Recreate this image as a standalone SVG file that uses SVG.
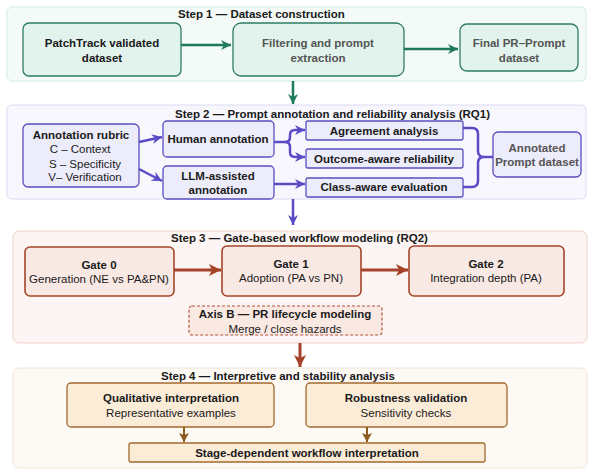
<svg xmlns="http://www.w3.org/2000/svg" width="594" height="475" viewBox="0 0 594 475">
<defs>
<style>
text{font-family:"Liberation Sans",Arial,sans-serif;font-size:11.5px;fill:#1a1a1a;text-anchor:middle}
.b{font-weight:bold}
.g{fill:#555}
.st{font-weight:bold;text-anchor:start}
.c1{fill:#f3faf7;stroke:#d3ebe1;stroke-width:1}
.n1{fill:#e1f3ec;stroke:#2e7d63;stroke-width:1.3}
.c2{fill:#f7f7fd;stroke:#dcdaf2;stroke-width:1}
.n2{fill:#ececfb;stroke:#5a4fc0;stroke-width:1.3}
.c3{fill:#fdf5f3;stroke:#f0d3ca;stroke-width:1}
.n3{fill:#f9e9e4;stroke:#a4452a;stroke-width:1.6}
.c4{fill:#fdf9f4;stroke:#f0e3d1;stroke-width:1}
.n4{fill:#fbecd8;stroke:#a26a2c;stroke-width:1.3}
.a1{fill:none;stroke:#1f7a5a;stroke-width:2.5}
.a2{fill:none;stroke:#5b4bc4;stroke-width:2.5}
.a3{fill:none;stroke:#a4432a;stroke-width:3}
.a4{fill:none;stroke:#8b5a1c;stroke-width:2}
</style>
<marker id="m1" markerUnits="userSpaceOnUse" markerWidth="12" markerHeight="12" refX="10" refY="5" orient="auto"><path d="M0,0 L10,5 L0,10 L3,5 Z" fill="#1f7a5a"/></marker>
<marker id="m2" markerUnits="userSpaceOnUse" markerWidth="12" markerHeight="12" refX="10" refY="5" orient="auto"><path d="M0,0 L10,5 L0,10 L3,5 Z" fill="#5b4bc4"/></marker>
<marker id="m3" markerUnits="userSpaceOnUse" markerWidth="14" markerHeight="14" refX="12" refY="6" orient="auto"><path d="M0,0 L12,6 L0,12 L3,6 Z" fill="#a4432a"/></marker>
<marker id="m4" markerUnits="userSpaceOnUse" markerWidth="12" markerHeight="12" refX="9" refY="5" orient="auto"><path d="M0,0 L9,5 L0,10 L2,5 Z" fill="#8b5a1c"/></marker>
</defs>
<rect width="594" height="475" fill="#ffffff"/>

<g id="step1">
<rect class="c1" x="7" y="7" width="579" height="74" rx="5"/>
<text class="st" x="178" y="18">Step 1 — Dataset construction</text>
</g>
<g id="patchtrack"><rect class="n1" x="23" y="23" width="158" height="53" rx="6"/><text class="b" x="102" y="47">PatchTrack validated</text><text class="b" x="102" y="62">dataset</text></g>
<g id="filtering"><rect class="n1" x="233" y="23" width="171" height="53" rx="8"/><text class="b g" x="318" y="47">Filtering and prompt</text><text class="b g" x="318" y="62">extraction</text></g>
<g id="final"><rect class="n1" x="460" y="24" width="118" height="47" rx="7"/><text class="b g" x="519" y="47">Final PR–Prompt</text><text class="b g" x="519" y="62">dataset</text></g>

<g id="step2">
<rect class="c2" x="7" y="105" width="579" height="94" rx="5"/>
<text class="st" x="175" y="118">Step 2 — Prompt annotation and reliability analysis (RQ1)</text>
</g>
<g id="rubric"><rect class="n2" x="23" y="124" width="116" height="63" rx="5"/><text class="b" x="81" y="139">Annotation rubric</text><text x="80" y="153">C – Context</text><text x="85" y="168">S – Specificity</text><text x="85" y="181">V– Verification</text></g>
<g id="human"><rect class="n2" x="163" y="121" width="111" height="36" rx="4"/><text class="b" x="218" y="143">Human annotation</text></g>
<g id="llm"><rect class="n2" x="163" y="166" width="111" height="33" rx="4"/><text class="b" x="218" y="180">LLM-assisted</text><text class="b" x="218" y="194">annotation</text></g>
<g id="agreement"><rect class="n2" x="306" y="121" width="157" height="19" rx="2"/><text class="b" x="384" y="135">Agreement analysis</text></g>
<g id="outcome"><rect class="n2" x="306" y="149" width="157" height="19" rx="2"/><text class="b" x="384" y="163">Outcome-aware reliability</text></g>
<g id="classaware"><rect class="n2" x="306" y="178" width="157" height="19" rx="2"/><text class="b" x="384" y="191">Class-aware evaluation</text></g>
<g id="annotated"><rect class="n2" x="493" y="132" width="88" height="45" rx="5"/><text class="b g" x="537" y="152">Annotated</text><text class="b g" x="537" y="166">Prompt dataset</text></g>

<g id="step3">
<rect class="c3" x="13" y="231" width="574" height="112" rx="6"/>
<text class="st" x="171" y="242">Step 3 — Gate-based workflow modeling (RQ2)</text>
</g>
<g id="gate0"><rect class="n3" x="25" y="247" width="149" height="49" rx="5"/><text class="b" x="99" y="269">Gate 0</text><text x="99" y="283">Generation (NE vs PA&amp;PN)</text></g>
<g id="gate1"><rect class="n3" x="222" y="246" width="139" height="50" rx="5"/><text class="b" x="291" y="268">Gate 1</text><text x="291" y="282">Adoption (PA vs PN)</text></g>
<g id="gate2"><rect class="n3" x="409" y="246" width="155" height="50" rx="5"/><text class="b" x="486" y="268">Gate 2</text><text x="486" y="282">Integration depth (PA)</text></g>
<g id="axisb"><rect x="189" y="306" width="193" height="29" rx="3" fill="#fae9e3" stroke="#b0553a" stroke-width="1.2" stroke-dasharray="3,2"/><text class="b" x="285" y="318">Axis B — PR lifecycle modeling</text><text x="285" y="333">Merge / close hazards</text></g>

<g id="step4">
<rect class="c4" x="13" y="368" width="574" height="100" rx="6"/>
<text class="st" x="161" y="380">Step 4 — Interpretive and stability analysis</text>
</g>
<g id="qualitative"><rect class="n4" x="67" y="383" width="207" height="44" rx="4"/><text class="b" x="171" y="402">Qualitative interpretation</text><text x="171" y="417">Representative examples</text></g>
<g id="robustness"><rect class="n4" x="306" y="383" width="201" height="44" rx="4"/><text class="b" x="406" y="402">Robustness validation</text><text x="406" y="417">Sensitivity checks</text></g>
<g id="stagedep"><rect class="n4" x="129" y="443" width="356" height="19" rx="2"/><text class="b" x="307" y="457">Stage-dependent workflow interpretation</text></g>

<g id="connectors">
<path class="a1" d="M181,45 H231" marker-end="url(#m1)"/>
<path class="a1" d="M404,49 H458" marker-end="url(#m1)"/>
<path class="a1" d="M293,81 V104" marker-end="url(#m1)"/>
<path class="a2" d="M139,142 L162,137" marker-end="url(#m2)"/>
<path class="a2" d="M139,169 L162,181" marker-end="url(#m2)"/>
<path class="a2" d="M274,142 H285 Q290,142 290,137 V135 Q290,130 295,130 H305" marker-end="url(#m2)"/>
<path class="a2" d="M285,142 Q290,142 290,147 V152 Q290,157 295,157 H305" marker-end="url(#m2)"/>
<path class="a2" d="M274,184 H305" marker-end="url(#m2)"/>
<path class="a2" d="M463,128 H472 Q478,128 478,134 V151 Q478,157 484,157 H493"/>
<path class="a2" d="M463,187 H472 Q478,187 478,181 V163 Q478,157 484,157"/>
<path class="a2" d="M293,199 V225" marker-end="url(#m2)"/>
<path class="a3" d="M174,270 H221" marker-end="url(#m3)"/>
<path class="a3" d="M361,270 H408" marker-end="url(#m3)"/>
<path class="a3" d="M300,343 V367" marker-end="url(#m3)"/>
<path class="a4" d="M184,427 V442" marker-end="url(#m4)"/>
<path class="a4" d="M367,427 V442" marker-end="url(#m4)"/>
</g>
</svg>
